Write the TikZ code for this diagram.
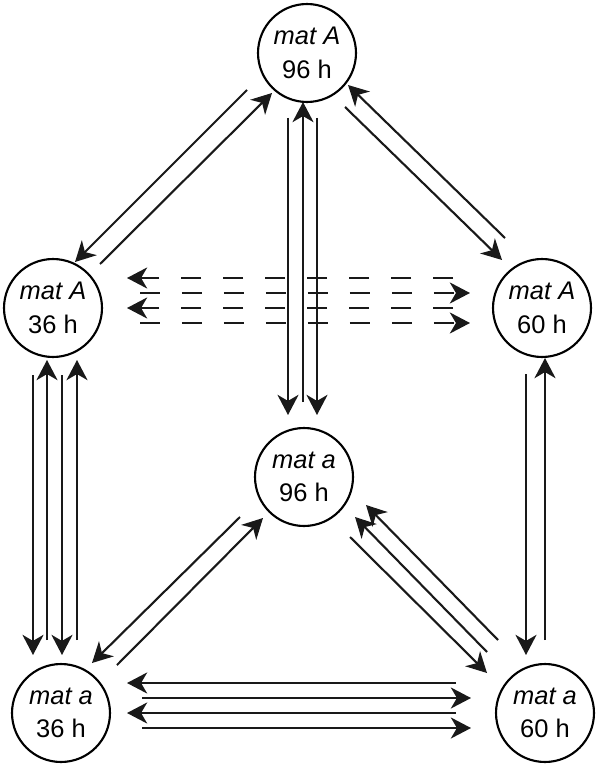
\documentclass[tikz,border=0pt]{standalone}
\usepackage{fontspec}
\setmainfont{Liberation Sans}
\usetikzlibrary{arrows.meta,calc}

\begin{document}
\begin{tikzpicture}[x=0.02cm,y=-0.02cm]
    \tikzstyle{state}=[circle,draw,line width=1.2pt,minimum size=1.96cm,inner sep=0pt,align=center,font=\fontsize{14.5}{19}\selectfont]
    \tikzstyle{link}=[draw=black!90,line width=1.2pt,-{Stealth[length=11.5pt,width=12pt,inset=3.5pt]}]
    \tikzstyle{dlink}=[link,dash pattern=on 0.4cm off 0.44cm]
    \useasboundingbox (0,0) rectangle (600,770);

    \node[state] (A96) at (307,53) {\textit{mat A}\\96 h};
    \node[state] (A36) at (53,308) {\textit{mat A}\\36 h};
    \node[state] (A60) at (542,308) {\textit{mat A}\\60 h};
    \node[state] (a96) at (304,477) {\textit{mat a}\\96 h};
    \node[state] (a36) at (61,713) {\textit{mat a}\\36 h};
    \node[state] (a60) at (545,713) {\textit{mat a}\\60 h};

    % top to the middle row
    \draw[link] ($(A96)+(-60,37)$) -- ($(A36)+(22,-46)$);
    \draw[link] ($(A36)+(47,-44)$) -- ($(A96)+(-35,40)$);
    \draw[link] ($(A60)+(-37,-70)$) -- ($(A96)+(41,32)$);
    \draw[link] ($(A96)+(38,54)$) -- ($(A60)+(-40,-48)$);

    % top to the centre
    \draw[link] ($(A96)+(-19,65)$) -- ($(a96)+(-16,-62)$);
    \draw[link] ($(a96)+(-1,-75)$) -- ($(A96)+(-4,49)$);
    \draw[link] ($(A96)+(10,65)$) -- ($(a96)+(13,-62)$);

    % dashed, across
    \draw[dlink] ($(A60)+(-89,-30)$) -- ($(A36)+(74,-30)$);
    \draw[dlink] ($(A36)+(87,-15)$) -- ($(A60)+(-72,-15)$);
    \draw[dlink] ($(A60)+(-89,0)$) -- ($(A36)+(74,0)$);
    \draw[dlink] ($(A36)+(87,15)$) -- ($(A60)+(-72,15)$);

    % left side
    \draw[link] ($(A36)+(-20,67)$) -- ($(a36)+(-28,-58)$);
    \draw[link] ($(a36)+(-14,-73)$) -- ($(A36)+(-6,52)$);
    \draw[link] ($(A36)+(9,67)$) -- ($(a36)+(1,-58)$);
    \draw[link] ($(a36)+(16,-73)$) -- ($(A36)+(24,52)$);

    % right side
    \draw[link] ($(A60)+(-16,66)$) -- ($(a60)+(-19,-58)$);
    \draw[link] ($(a60)+(0,-73)$) -- ($(A60)+(3,50)$);

    % centre to the bottom row
    \draw[link] ($(a96)+(-64,40)$) -- ($(a36)+(31,-50)$);
    \draw[link] ($(a36)+(56,-48)$) -- ($(a96)+(-41,41)$);
    \draw[link] ($(a96)+(46,60)$) -- ($(a60)+(-58,-40)$);
    \draw[link] ($(a60)+(-58,-61)$) -- ($(a96)+(51,40)$);
    \draw[link] ($(a60)+(-47,-73)$) -- ($(a96)+(62,28)$);

    % bottom, across
    \draw[link] ($(a60)+(-89,-30)$) -- ($(a36)+(66,-30)$);
    \draw[link] ($(a36)+(81,-15)$) -- ($(a60)+(-74,-15)$);
    \draw[link] ($(a60)+(-89,0)$) -- ($(a36)+(66,0)$);
    \draw[link] ($(a36)+(81,15)$) -- ($(a60)+(-74,15)$);
\end{tikzpicture}
\end{document}
